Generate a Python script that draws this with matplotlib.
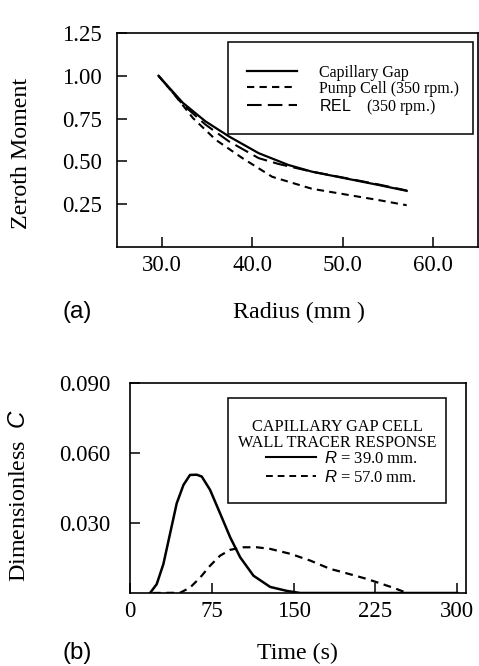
import matplotlib
matplotlib.use('Agg')
import matplotlib.pyplot as plt
from matplotlib.patches import Rectangle

plt.rcParams['font.family'] = 'Liberation Serif'
plt.rcParams['mathtext.fontset'] = 'custom'
plt.rcParams['mathtext.rm'] = 'Liberation Serif'
plt.rcParams['mathtext.sf'] = 'Liberation Sans'
plt.rcParams['mathtext.it'] = 'Liberation Sans:italic'

# (a) zeroth moment vs radius
radius_cap = [29.6, 32.3, 34.8, 37.4, 40.7, 44.0, 46.6, 50.3, 54.0, 57.1]
moment_cap = [1.00, 0.842, 0.734, 0.646, 0.548, 0.479, 0.44, 0.401, 0.362, 0.328]
radius_pump = [29.6, 31.5, 33.4, 35.95, 38.9, 42.2, 46.6, 50.3, 54.0, 57.1]
moment_pump = [1.00, 0.881, 0.754, 0.626, 0.519, 0.41, 0.34, 0.307, 0.274, 0.244]
radius_rel = [29.6, 32.3, 34.8, 37.4, 40.7, 42.9, 46.6, 50.3, 54.0, 57.1]
moment_rel = [1.00, 0.832, 0.715, 0.617, 0.519, 0.485, 0.44, 0.403, 0.365, 0.33]

# (b) wall tracer response, R = 39.0 mm and R = 57.0 mm
t_39 = [18.4, 24.5, 30.6, 36.7, 42.8, 49.0, 55.0, 61.2, 65.8, 73.4, 82.6, 91.8,
        101.0, 113.2, 128.5, 143.8, 156.0, 300.0]
c_39 = [0.0, 0.0038, 0.0124, 0.0254, 0.0384, 0.0463, 0.0506, 0.0507, 0.0499,
        0.0442, 0.0341, 0.0239, 0.0153, 0.0074, 0.0026, 0.0009, 0.0, 0.0]
t_57 = [21.0, 45.9, 55.0, 64.3, 73.4, 82.6, 91.8, 104.0, 116.3, 128.5, 146.9,
        165.2, 183.6, 192.8, 217.3, 241.7, 254.0]
c_57 = [0.0, 0.0001, 0.0023, 0.0066, 0.0117, 0.016, 0.0185, 0.0196, 0.0196,
        0.0189, 0.0168, 0.0139, 0.0103, 0.0092, 0.0060, 0.0022, 0.0]

W, H = 479, 666
fig = plt.figure(figsize=(W / 100, H / 100), dpi=100)


def px_axes(x0, y0, x1, y1):
    return fig.add_axes([x0 / W, 1 - y1 / H, (x1 - x0) / W, (y1 - y0) / H])


def style(ax):
    for s in ax.spines.values():
        s.set_linewidth(1.2)
    ax.tick_params(direction='in', length=7, width=1.1, labelsize=16.5,
                   top=False, right=False)
    ax.tick_params(axis='y', pad=11)
    ax.tick_params(axis='x', pad=6)


lfs = 17.3

# ---- panel (a)
ax1 = px_axes(117, 33, 478, 247)
style(ax1)
l1, = ax1.plot(radius_cap, moment_cap, color='k', lw=1.6)
l2, = ax1.plot(radius_pump, moment_pump, color='k', lw=1.5, dashes=(3.5, 2.5))
l3, = ax1.plot(radius_rel, moment_rel, color='k', lw=1.5, dashes=(7, 3))
ax1.set_xlim(25, 65)
ax1.set_ylim(0, 1.25)
ax1.set_xticks([30, 40, 50, 60])
ax1.set_xticklabels(['30.0', '40.0', '50.0', '60.0'])
ax1.set_yticks([0.25, 0.50, 0.75, 1.00, 1.25])
ax1.set_yticklabels(['0.25', '0.50', '0.75', '1.00', '1.25'])

fig.patches.append(Rectangle((228 / W, 1 - 134 / H), 245 / W, 92 / H,
                             transform=fig.transFigure, fill=False, ec='k', lw=1.1))
fig.legend([l1, l2, l3],
           ['Capillary Gap', 'Pump Cell (350 rpm.)', r'$\mathsf{REL}$    (350 rpm.)'],
           loc='upper left', bbox_to_anchor=(247 / W, 1 - 65 / H), frameon=False,
           fontsize=11.5, handlelength=3.1, handletextpad=1.4, labelspacing=0.0,
           borderpad=0, borderaxespad=0)

fig.text(299 / W, 1 - 312 / H, 'Radius (mm )', fontsize=lfs, ha='center', va='center')
fig.text(22 / W, 1 - 153 / H, 'Zeroth Moment', fontsize=lfs, rotation=90,
         ha='center', va='center')
fig.text(77 / W, 1 - 312 / H, '(a)', fontsize=lfs, family='Liberation Sans',
         ha='center', va='center')

# ---- panel (b)
ax2 = px_axes(130, 383, 466, 593)
style(ax2)
ax2.plot(t_39, c_39, color='k', lw=1.8)
ax2.plot(t_57, c_57, color='k', lw=1.6, dashes=(3.5, 2.5))
ax2.set_xlim(0, 308)
ax2.set_ylim(0, 0.09)
ax2.set_xticks([0, 75, 150, 225, 300])
ax2.set_yticks([0.03, 0.06, 0.09])
ax2.set_yticklabels(['0.030', '0.060', '0.090'])
ax2.tick_params(axis='y', pad=14)

fig.patches.append(Rectangle((228 / W, 1 - 503 / H), 218 / W, 105 / H,
                             transform=fig.transFigure, fill=False, ec='k', lw=1.1))
fig.text(337 / W, 1 - 427 / H, 'CAPILLARY GAP CELL', fontsize=11.7,
         ha='center', va='center')
fig.text(337 / W, 1 - 443 / H, 'WALL TRACER RESPONSE', fontsize=11.7,
         ha='center', va='center')
h1, = ax2.plot([], [], color='k', lw=1.5)
h2, = ax2.plot([], [], color='k', lw=1.4, dashes=(3.5, 2.5))
fig.legend([h1, h2], [r'$R$ = 39.0 mm.', r'$R$ = 57.0 mm.'],
           loc='upper left', bbox_to_anchor=(266 / W, 1 - 451 / H), frameon=False,
           fontsize=12, handlelength=3.0, handletextpad=0.5, labelspacing=0.15,
           borderpad=0, borderaxespad=0)

fig.text(297 / W, 1 - 653 / H, 'Time (s)', fontsize=lfs, ha='center', va='center')
fig.text(20 / W, 1 - 496 / H, r'Dimensionless  $C$', fontsize=lfs, rotation=90,
         ha='center', va='center')
fig.text(77 / W, 1 - 653 / H, '(b)', fontsize=lfs, family='Liberation Sans',
         ha='center', va='center')

fig.savefig('out.png', dpi=100)
